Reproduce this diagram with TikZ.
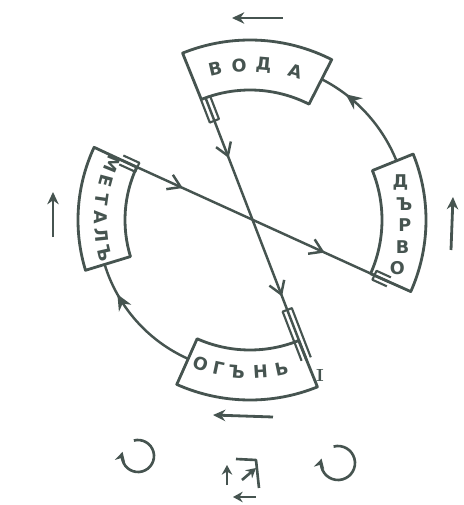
\documentclass[tikz,border=0pt]{standalone}
\usepackage{fontspec}
\usepackage{tikz}
\usetikzlibrary{arrows.meta,decorations.markings,calc}
\newfontfamily\signfont{DejaVu Sans}
\definecolor{ink}{RGB}{70,84,80}
\tikzset{
  sector/.style={draw=ink,line width=1.6pt,line join=round},          % box on the ring
  tabline/.style={draw=ink,line width=1.2pt,line join=round},
  linkline/.style={ink,line width=1.4pt},
  crossline/.style={linkline,postaction={decorate},decoration={markings,
      mark=at position 0.23 with {\arrow{Straight Barb[length=7pt,width=9pt]}},
      mark=at position 0.76 with {\arrow{Straight Barb[length=7pt,width=9pt]}}}},
  cycleline/.style={linkline,postaction={decorate},decoration={markings,
      mark=at position 0.75 with {\arrow{Stealth[length=9pt,width=8pt]}}}},
  sidearrow/.style={ink,line width=1.6pt,-{Stealth[length=7pt,width=6.5pt]}},
  ringarrow/.style={ink,line width=1.5pt,-{Stealth[length=5.5pt,width=6pt]}},
  sign/.style={font=\signfont\bfseries\fontsize{10}{12}\selectfont,text=ink,inner sep=0pt},
}
\newcommand{\ringbox}[4]{% start angle, end angle, inner r, outer r
  \draw[sector] (#1:#3) arc[start angle=#1,end angle=#2,radius=#3]
    -- (#2:#4) arc[start angle=#2,end angle=#1,radius=#4] -- cycle;
}
\newcommand{\tabstrip}[3]{% box end, far end, length
  \draw[tabline] ($(#1)!2.8pt!90:(#2)$) -- ($(#1)!#3!(#2)!2.8pt!90:(#2)$)
    -- ($(#1)!#3!(#2)!2.8pt!-90:(#2)$) -- ($(#1)!2.8pt!-90:(#2)$);
}

\begin{document}
\begin{tikzpicture}[x=0.02cm,y=0.02cm]
  \useasboundingbox (0,0) rectangle (464,505);
  \begin{scope}[shift={(250,285)}]
    % the four boxes on the ring
    \ringbox{63}{112}{130}{180}
    \ringbox{-24}{22}{132}{176}
    \ringbox{246}{292}{130}{180}
    \ringbox{155}{197}{125}{172}
    \coordinate (wat-l) at (110:130);
    \coordinate (woo-t) at (22:158);
    \coordinate (woo-b) at (-24:152);
    \coordinate (fir-l) at (246:152);
    \coordinate (fir-r) at (292:150);
    \coordinate (met-t) at (155:142);
    % labels
    \foreach \ch/\a [count=\i] in {В/103,О/94,Д/85,А/73}
      \node[sign,rotate=\a-90] (wat\i) at (\a:155) {\ch};
    \foreach \ch/\a [count=\i] in {Д/14,Ъ/6,Р/-2,В/-10,О/-18}
      \node[sign] (woo\i) at (\a:155) {\ch};
    \foreach \ch/\a [count=\i] in {О/251,Г/258,Ъ/265,Н/274,Ь/282}
      \node[sign,rotate=\a+90] (fir\i) at (\a:152) {\ch};
    \foreach \ch/\a [count=\i] in {М/158,Е/165,Т/172,А/179,Л/186,Ъ/193}
      \node[sign,rotate=\a+90] (met\i) at (\a:149) {\ch};
    % connections
    \draw[cycleline] (woo-t) arc[start angle=22,end angle=63,radius=158];
    \draw[cycleline] (fir-l) arc[start angle=246,end angle=197,radius=152];
    \tabstrip{wat-l}{fir-r}{14pt}
    \tabstrip{fir-r}{wat-l}{30pt}
    \tabstrip{met-t}{woo-b}{10pt}
    \tabstrip{woo-b}{met-t}{9pt}
    \draw[crossline] (wat-l) -- (fir-r);
    \draw[crossline] (met-t) -- (woo-b);
  \end{scope}
  \node[font=\bfseries\fontsize{10}{12}\selectfont,text=ink,inner sep=0pt] (mark) at (320,130) {I};
  % direction arrows round the ring
  \coordinate (top-a) at (283,487); \coordinate (top-b) at (232,487);
  \coordinate (rgt-a) at (451,255); \coordinate (rgt-b) at (453,308);
  \coordinate (lft-a) at (53,268);  \coordinate (lft-b) at (53,313);
  \coordinate (bot-a) at (273,88);  \coordinate (bot-b) at (213,90);
  \draw[sidearrow] (top-a) -- (top-b);
  \draw[sidearrow] (rgt-a) -- (rgt-b);
  \draw[sidearrow] (lft-a) -- (lft-b);
  \draw[sidearrow] (bot-a) -- (bot-b);
  % small signs underneath
  \coordinate (ring-l) at (138,49);
  \coordinate (ring-r) at (338,42);
  \draw[ringarrow] ($(ring-l)+(105:16)$) arc[start angle=105,end angle=-195,radius=16];
  \draw[ringarrow] ($(ring-r)+(105:17)$) arc[start angle=105,end angle=-195,radius=17];
  \coordinate (sq-a) at (227,20); \coordinate (sq-b) at (227,40);
  \coordinate (sq-c) at (236,46); \coordinate (sq-d) at (256,45); \coordinate (sq-e) at (259,17);
  \coordinate (sq-f) at (256,8);  \coordinate (sq-g) at (233,8);
  \coordinate (sq-h) at (242,25); \coordinate (sq-i) at (256,37);
  \draw[ringarrow] (sq-a) -- (sq-b);
  \draw[ink,line width=1.5pt,line join=round] (sq-c) -- (sq-d) -- (sq-e);
  \draw[ringarrow] (sq-f) -- (sq-g);
  \draw[ringarrow] (sq-h) -- (sq-i);
\end{tikzpicture}
\end{document}
